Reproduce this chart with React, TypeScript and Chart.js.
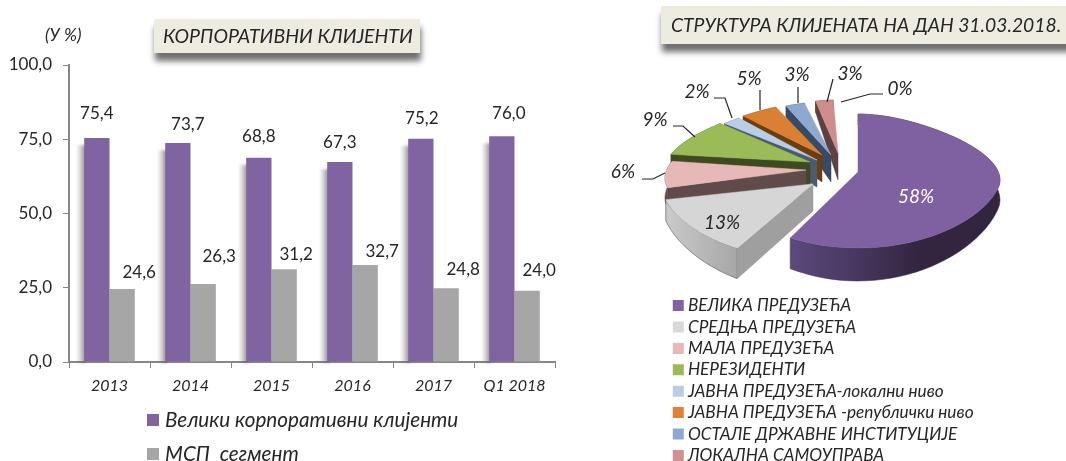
import React, { useEffect, useRef } from "react";
import { Chart, registerables } from "chart.js";

Chart.register(...registerables);

const FONT = "Lato, 'Open Sans', Roboto, sans-serif";
const years = ["2013", "2014", "2015", "2016", "2017", "Q1 2018"];
const largeCorporate = [75.4, 73.7, 68.8, 67.3, 75.2, 76.0];
const smeSegment = [24.6, 26.3, 31.2, 32.7, 24.8, 24.0];
const barSeriesNames = ["Велики корпоративни клијенти", "МСП  сегмент"];
const yTicks = [0, 25, 50, 75, 100];

const clientTypes = [
  "ВЕЛИКА ПРЕДУЗЕЋА",
  "СРЕДЊА ПРЕДУЗЕЋА",
  "МАЛА ПРЕДУЗЕЋА",
  "НЕРЕЗИДЕНТИ",
  "ЈАВНА ПРЕДУЗЕЋА-локални ниво",
  "ЈАВНА ПРЕДУЗЕЋА -републички ниво",
  "ОСТАЛЕ ДРЖАВНЕ ИНСТИТУЦИЈЕ",
  "ЛОКАЛНА САМОУПРАВА",
  "",
];
// Estimated slice sizes; the chart prints them rounded, as the reference does.
const clientShares = [57.8, 13.1, 6.2, 9.1, 2.2, 5.1, 3.1, 3.1, 0.3];

// Styling and layout tables (not data)
const purpleNudge = [[0, 25], [10, 19], [0, 21], [0, 20], [1, 20], [7, 23]];
const greyNudge = [[17, 16], [16, 27], [12, 15], [17, 13], [17, 19], [12, 20]];
const sliceTop = ["#7f60a0", "#d6d6d6", "#e6b8b7", "#9bbb59", "#b9cde5", "#d98035", "#8ea9d0", "#ce8e8e", "#888"];
const sliceLegend = ["#8064a2", "#d9d9d9", "#e6b9b8", "#9bbb59", "#b9cde5", "#e08136", "#8fa8cf", "#cf9191", "#888"];
const sliceEdge = ["#33253f", "#9f9f9f", "#604a4a", "#3f4a22", "#4b5a6c", "#6b3e12", "#3a4a62", "#5f4040", "#444"];
const sliceShift = [[26, 3], [-19, 15], [-26, 1], [-22, -7], [-15, -9], [-10, -14], [-1, -14], [6, -16], [0, 0]];
const rimShift = [[0, 0], [-8, -2], [1, 0], [-4, 1], [-7, 3], [-8, 6], [-7, 5], [-3, 5], [0, 0]];
// Label centres and leader lines, in the pie canvas' pixels.
const labelPlace = [[316, 197], [122, 223], [23, 172], [55, 120], [97, 92], [149, 79], [197, 75], [250, 74], [300, 89]];
const leaders = [
  null,
  null,
  [[42, 179], [53, 179], [65, 173]],
  [[73, 126], [83, 126], [95, 137]],
  [[114, 98], [125, 98], [132, 118]],
  [[160, 90], [160, 110]],
  [[198, 87], [198, 103]],
  [[233, 79], [227, 102]],
  [[283, 94], [270, 94], [241, 102]],
];

function detachLegend(left: number, top: number, textShift: number) {
  return {
    id: "detachLegend",
    beforeLayout(chart: any) {
      const l = chart.legend;
      if (l && !l.__patched) {
        const fit = l.fit.bind(l);
        l.fit = () => {
          fit();
          l.width = 0;
        };
        const draw = l._draw.bind(l);
        l._draw = () => {
          const c = l.ctx;
          const fill = c.fillText;
          c.fillText = function (t: string, x: number, y: number) {
            fill.call(c, t, x - textShift, y);
          };
          draw();
          delete c.fillText;
        };
        l.__patched = true;
      }
    },
    afterLayout(chart: any) {
      const l = chart.legend;
      l.left = left;
      l.right = left + 460;
      l.top = top;
      l.bottom = top + 400;
    },
  };
}

const barExtras = {
  id: "barExtras",
  beforeDatasetsDraw(chart: any) {
    const c = chart.ctx;
    const w = 10;
    c.save();
    c.filter = "blur(1.5px)";
    chart.getDatasetMeta(0).data.forEach((bar: any) => {
      const right = bar.x - bar.width / 2 + 2;
      const g = c.createLinearGradient(right - w, 0, right, 0);
      g.addColorStop(0, "rgba(90,90,90,0)");
      g.addColorStop(0.5, "rgba(90,90,90,0.3)");
      g.addColorStop(1, "rgba(70,70,70,0.75)");
      c.fillStyle = g;
      c.fillRect(right - w, bar.y + 7, w, bar.base - bar.y - 6);
    });
    c.restore();
  },
  afterDatasetsDraw(chart: any) {
    const c = chart.ctx;
    c.save();
    c.font = `17px ${FONT}`;
    c.fillStyle = "#262626";
    c.textAlign = "center";
    c.textBaseline = "middle";
    [purpleNudge, greyNudge].forEach((nudge, di) => {
      chart.getDatasetMeta(di).data.forEach((bar: any, i: number) => {
        const v = chart.data.datasets[di].data[i];
        c.fillText(v.toFixed(1).replace(".", ","), bar.x + nudge[i][0], bar.y - nudge[i][1]);
      });
    });
    c.restore();
  },
};

const pie3d = {
  id: "pie3d",
  beforeDatasetsDraw(chart: any) {
    const c = chart.ctx;
    const arcs = chart.getDatasetMeta(0).data;
    const project = (i: number, arc: any, th: number, r: number, down: boolean) => {
      const X = r * Math.cos(th);
      const Y = r * Math.sin(th);
      const sx = Y >= 0.2 ? 1 : 1 - 0.285 * Math.pow(0.2 - Y, 1.5);
      const R = arc.outerRadius;
      const x = arc.x + sliceShift[i][0] + r * rimShift[i][0] + X * R * sx;
      let y = arc.y + sliceShift[i][1] + r * rimShift[i][1] + Y * R * 0.465 * (1 + 0.135 * Y);
      if (down) y += 27 + 6 * Y - 8 * X * X - 10 * Math.max(0, -Y);
      return [x, y];
    };
    const poly = (pts: number[][], fill: any) => {
      c.beginPath();
      pts.forEach((p, k) => (k ? c.lineTo(p[0], p[1]) : c.moveTo(p[0], p[1])));
      c.closePath();
      c.fillStyle = fill;
      c.fill();
      c.strokeStyle = typeof fill === "string" ? fill : "#3a2b48";
      c.lineWidth = 0.5;
      c.stroke();
    };
    const order = [7, 6, 5, 4, 3, 2, 1, 0];
    order.forEach((i) => {
      const a = arcs[i];
      const n = 60;
      const top: number[][] = [];
      const bottom: number[][] = [];
      for (let k = 0; k <= n; k++) {
        const th = a.startAngle + ((a.endAngle - a.startAngle) * k) / n;
        top.push(project(i, a, th, 1, false));
        bottom.push(project(i, a, th, 1, true));
      }
      let curved: any = sliceEdge[i];
      if (i === 0) {
        const g = c.createLinearGradient(190, 0, 320, 0);
        g.addColorStop(0, "#5b4a7c");
        g.addColorStop(0.45, "#4a3963");
        g.addColorStop(1, "#33253f");
        curved = g;
      }
      if (i === 1) {
        const g = c.createLinearGradient(68, 0, 135, 0);
        g.addColorStop(0, "#c9c9c9");
        g.addColorStop(1, "#a8a8a8");
        curved = g;
      }
      poly([...top, ...bottom.slice().reverse()], curved);
      if (i !== 0) {
        poly(
          [
            project(i, a, a.startAngle, 0, false),
            top[0],
            bottom[0],
            project(i, a, a.startAngle, 0, true),
          ],
          sliceEdge[i],
        );
      }
      poly([project(i, a, a.startAngle, 0, false), ...top], sliceTop[i]);
    });

    c.save();
    c.strokeStyle = "#262626";
    c.lineWidth = 1.2;
    leaders.forEach((line) => {
      if (!line) return;
      c.beginPath();
      line.forEach((p, k) => (k ? c.lineTo(p[0], p[1]) : c.moveTo(p[0], p[1])));
      c.stroke();
    });
    c.font = `italic 19px ${FONT}`;
    c.textAlign = "center";
    c.textBaseline = "middle";
    chart.data.datasets[0].data.forEach((v: number, i: number) => {
      c.fillStyle = i === 0 ? "#ffffff" : "#262626";
      c.fillText(`${Math.round(v)}%`, labelPlace[i][0], labelPlace[i][1]);
    });
    c.restore();
    return false;
  },
};

export default function App() {
  const barRef = useRef<HTMLCanvasElement>(null);
  const pieRef = useRef<HTMLCanvasElement>(null);

  useEffect(() => {
    const bar = new Chart(barRef.current!, {
      type: "bar",
      data: {
        labels: years,
        datasets: [
          { label: barSeriesNames[0], data: largeCorporate, backgroundColor: "#8064a2" },
          { label: barSeriesNames[1], data: smeSegment, backgroundColor: "#a6a6a6" },
        ],
      },
      plugins: [barExtras, detachLegend(133.7, 396.4, 4.3)],
      options: {
        animation: false,
        responsive: false,
        events: [],
        layout: { padding: { left: 0, top: 65, right: 45, bottom: 69 } },
        datasets: { bar: { categoryPercentage: 0.625, barPercentage: 1 } },
        scales: {
          x: {
            afterFit: (s: any) => {
              s.height = 30;
            },
            grid: { drawOnChartArea: false, color: "#868686", tickLength: 6, offset: true },
            border: { color: "#868686", width: 2 },
            ticks: { font: { family: FONT, size: 16, style: "italic" }, color: "#262626", padding: 8, maxRotation: 0 },
          },
          y: {
            min: 0,
            max: 100,
            afterFit: (s: any) => {
              s.width = 69;
            },
            afterBuildTicks: (s: any) => {
              s.ticks = yTicks.map((value) => ({ value }));
            },
            grid: { drawOnChartArea: false, color: "#868686", tickLength: 6 },
            border: { color: "#868686", width: 2 },
            ticks: {
              font: { family: FONT, size: 17 },
              color: "#262626",
              padding: 11,
              callback: (v: any) => Number(v).toFixed(1).replace(".", ","),
            },
          },
        },
        plugins: {
          tooltip: { enabled: false },
          legend: {
            position: "left",
            align: "start",
            labels: {
              boxWidth: 12,
              boxHeight: 12,
              padding: 13.3,
              color: "#262626",
              font: { family: FONT, size: 20.7, style: "italic", lineHeight: 1 },
            },
          },
        },
      } as any,
    });

    const pie = new Chart(pieRef.current!, {
      type: "pie",
      data: {
        labels: clientTypes,
        datasets: [{ data: clientShares, backgroundColor: sliceLegend, borderWidth: 0, hoverOffset: 0 }],
      },
      plugins: [pie3d, detachLegend(68.6, 292.8, 4.5)],
      options: {
        animation: false,
        responsive: false,
        events: [],
        layout: { padding: { left: 88, right: 90, top: 25, bottom: 148 } },
        plugins: {
          tooltip: { enabled: false },
          legend: {
            position: "left",
            align: "start",
            labels: {
              boxWidth: 11,
              boxHeight: 11,
              padding: 4.2,
              color: "#262626",
              font: { family: FONT, size: 17.2, style: "italic", lineHeight: 1 },
              filter: (item: any) => item.text !== "",
            },
          },
        },
      } as any,
    });

    return () => {
      bar.destroy();
      pie.destroy();
    };
  }, []);

  const titleBox = (left: number, top: number, width: number, height: number, size: number): React.CSSProperties => ({
    position: "absolute",
    left,
    top,
    width,
    height,
    background: "#eeece1",
    boxShadow: "1px 8px 6px rgba(50,50,50,0.7)",
    fontFamily: FONT,
    fontStyle: "italic",
    fontSize: size,
    lineHeight: `${height}px`,
    color: "#262626",
    whiteSpace: "nowrap",
    boxSizing: "border-box",
  });

  return (
    <div style={{ position: "absolute", left: 0, top: 0, width: 1066, height: 461, overflow: "hidden", background: "#fff" }}>
      <canvas ref={barRef} width={600} height={461} style={{ position: "absolute", left: 0, top: 0 }} />
      <canvas ref={pieRef} width={466} height={461} style={{ position: "absolute", left: 600, top: 0 }} />
      <div style={{ position: "absolute", left: 45, top: 24, fontFamily: FONT, fontStyle: "italic", fontSize: 17.5, color: "#262626" }}>(У %)</div>
      <div style={{ ...titleBox(154, 19, 266, 34, 19.5), paddingLeft: 9 }}>КОРПОРАТИВНИ КЛИЈЕНТИ</div>
      <div style={{ ...titleBox(661, 6, 420, 38, 19.3), paddingLeft: 10 }}>СТРУКТУРА КЛИЈЕНАТА НА ДАН 31.03.2018.</div>
    </div>
  );
}
